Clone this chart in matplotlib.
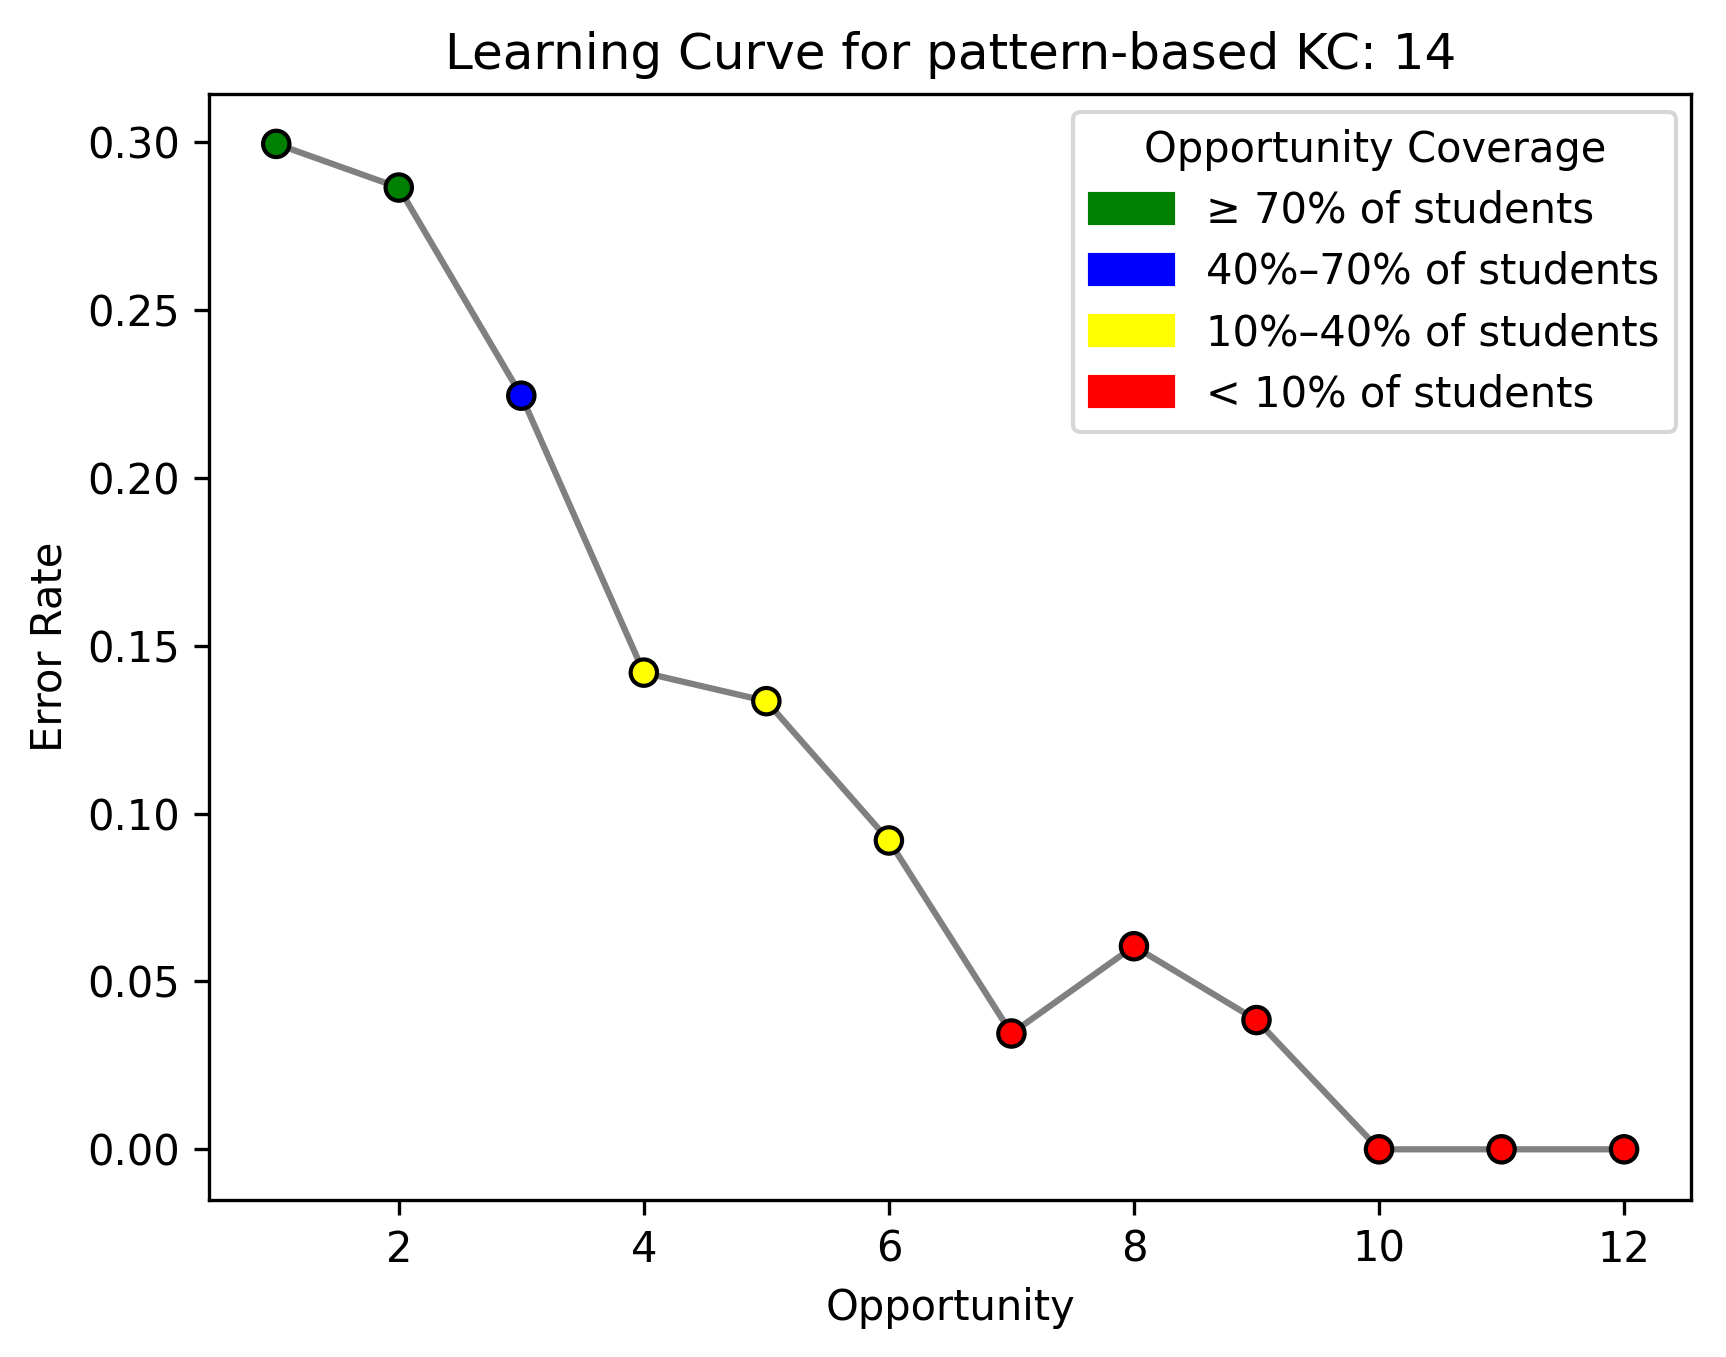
import numpy as np
import matplotlib.pyplot as plt
from matplotlib.patches import Patch

# data
opportunity = [1, 2, 3, 4, 5, 6, 7, 8, 9, 10, 11, 12]
error_rate = [0.2995, 0.2865, 0.2245, 0.142, 0.1335, 0.092, 0.0345, 0.0605, 0.0385, 0.0, 0.0, 0.0]
coverage = ['green', 'green', 'blue', 'yellow', 'yellow', 'yellow',
            'red', 'red', 'red', 'red', 'red', 'red']

legend_colors = ['green', 'blue', 'yellow', 'red']
legend_labels = ['\u2265 70% of students', '40%\u201370% of students',
                 '10%\u201340% of students', '< 10% of students']

fig = plt.figure(figsize=(1726 / 300, 1357 / 300), dpi=300)
ax = fig.add_axes([0.121, 0.116, 0.859, 0.815])

ax.plot(opportunity, error_rate, color='gray', linewidth=1.5, zorder=1)
ax.scatter(opportunity, error_rate, c=coverage, edgecolors='black',
           s=40, linewidths=1.0, zorder=2)

ax.set_title('Learning Curve for pattern-based KC: 14')
ax.set_xlabel('Opportunity')
ax.set_ylabel('Error Rate')

handles = [Patch(color=c, label=l) for c, l in zip(legend_colors, legend_labels)]
ax.legend(handles=handles, title='Opportunity Coverage', loc='upper right',
          labelspacing=0.46, borderaxespad=0.36,
          bbox_to_anchor=(1.0, 0.997))

fig.savefig('out.png', dpi=300)
